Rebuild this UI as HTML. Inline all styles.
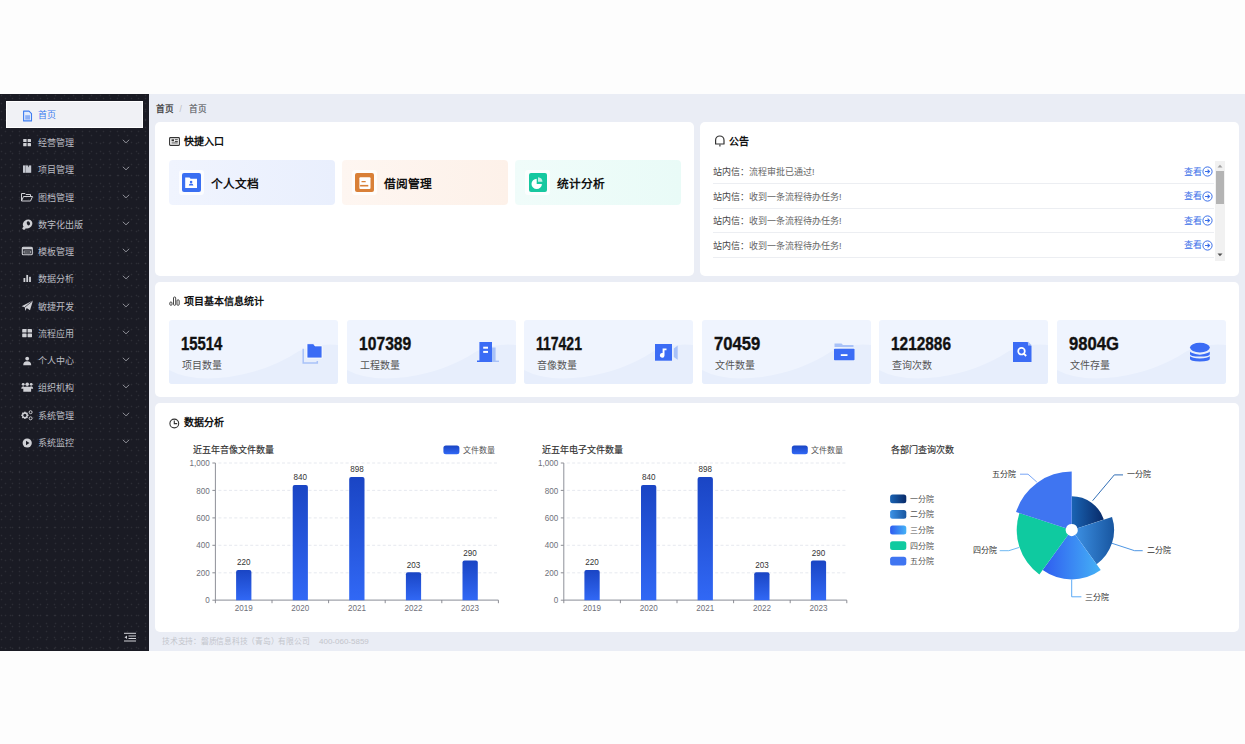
<!DOCTYPE html>
<html lang="zh-CN"><head><meta charset="utf-8">
<style>
*{box-sizing:border-box;margin:0;padding:0}
html,body{width:1245px;height:744px;overflow:hidden;background-color:#fdfdfd;font-family:"Liberation Sans",sans-serif;}
.abs{position:absolute}
#side{position:absolute;left:0;top:94px;width:149px;height:557px;background-color:#1a1b24;background-image:radial-gradient(circle at 1.5px 1.5px,rgba(110,110,120,.22) 0.6px,transparent 1.1px),radial-gradient(circle at 1.5px 1.5px,rgba(110,110,120,.22) 0.6px,transparent 1.1px);background-size:9px 8px,7px 11px;background-position:0 0,4px 3px;}
#main{position:absolute;left:149px;top:94px;width:1096px;height:557px;background:#eaedf5;}
.card{position:absolute;background:#fff;border-radius:5px;}
.mi{position:absolute;left:0;width:149px;height:0;color:#bcbdc3;font-size:9px;}
.mi .t{position:absolute;left:38px;top:-6px;line-height:14px;white-space:nowrap}
.mi .ic{position:absolute}
.mi .ch{position:absolute;left:122px;top:-3px}
.ttl{position:absolute;font-size:10px;font-weight:bold;color:#111;line-height:14px;white-space:nowrap}
.tile{position:absolute;top:160px;width:166px;height:45px;border-radius:4px}
.tile .ib{position:absolute;left:13px;top:14px;width:18px;height:18px;border-radius:1px}
.tile .tx{position:absolute;left:42px;top:15.5px;font-size:11.7px;font-weight:bold;color:#111;line-height:16px;white-space:nowrap}
.stat{position:absolute;top:320px;width:169px;height:64px;border-radius:3px;background:#eff4fe;overflow:hidden}
.stat .num{position:absolute;left:12px;top:13.5px;font-size:17.5px;font-weight:bold;color:#111;line-height:20px;transform-origin:0 0;white-space:nowrap;-webkit-text-stroke:0.35px #111}
.stat .lab{position:absolute;left:13px;top:39px;font-size:10px;color:#555;line-height:14px;white-space:nowrap}
</style></head><body>
<div id="side">
  <div class="abs" style="left:6px;top:7px;width:137px;height:27px;background:#f0f1f5;border:1px solid #fff;"></div>
  <svg class="abs" style="left:22px;top:15.5px" width="11" height="12" viewBox="0 0 11 12"><path d="M1.6 1.1 H7 L9.5 3.6 V10.9 H1.6 Z" fill="#e3ecfc" stroke="#3d7cf0" stroke-width="1.1" stroke-linejoin="round"/><path d="M3.2 5.2 H8 V9.6 H3.2Z" fill="#8db0f5"/></svg>
  <div class="abs" style="left:38px;top:14px;font-size:9px;line-height:14px;color:#3d7cf0">首页</div>
<!--SIDE--><div class="mi" style="top:48.17px"><svg class="ic" width="12" height="12" viewBox="0 0 12 12" style="left:22px;top:-5.5px"><rect x="1.2" y="2" width="3.4" height="3.1" rx="0.5" fill="#cfd0d5"/><rect x="5.6" y="2" width="3.4" height="3.1" rx="0.5" fill="#cfd0d5"/><rect x="1.2" y="6.1" width="3.4" height="3.1" rx="0.5" fill="#cfd0d5"/><rect x="5.6" y="6.1" width="3.4" height="3.1" rx="0.5" fill="#cfd0d5"/></svg><span class="t">经营管理</span><svg class="ch" width="8" height="5" viewBox="0 0 8 5"><path d="M0.8 0.8 L4 3.8 L7.2 0.8" fill="none" stroke="#9a9ba3" stroke-width="0.9"/></svg></div>
<div class="mi" style="top:75.43px"><svg class="ic" width="12" height="12" viewBox="0 0 12 12" style="left:22px;top:-6px"><rect x="1" y="2.4" width="8.2" height="7.4" fill="#c4c7cf"/><rect x="3.1" y="2.4" width="0.55" height="7.4" fill="#1c1d26" fill-opacity="0.6"/><path d="M5.8 2.3 L6.5 4.4 L7.2 2.3Z" fill="#1c1d26"/></svg><span class="t">项目管理</span><svg class="ch" width="8" height="5" viewBox="0 0 8 5"><path d="M0.8 0.8 L4 3.8 L7.2 0.8" fill="none" stroke="#9a9ba3" stroke-width="0.9"/></svg></div>
<div class="mi" style="top:102.68px"><svg class="ic" width="14" height="14" viewBox="0 0 14 14" style="left:20px;top:-7px"><path d="M1.5 11 V3.5 H5 L6 4.5 H10.5 V6.5 M1.5 11 L3.5 6.5 H12.5 L10.5 11 Z" fill="none" stroke="#cfd0d5" stroke-width="1"/></svg><span class="t">图档管理</span><svg class="ch" width="8" height="5" viewBox="0 0 8 5"><path d="M0.8 0.8 L4 3.8 L7.2 0.8" fill="none" stroke="#9a9ba3" stroke-width="0.9"/></svg></div>
<div class="mi" style="top:129.94px"><svg class="ic" width="14" height="14" viewBox="0 0 14 14" style="left:20px;top:-7px"><ellipse cx="7.6" cy="7" rx="5" ry="4.2" transform="rotate(-35 7.6 7)" fill="#cfd0d5"/><ellipse cx="8.4" cy="6.3" rx="1.6" ry="2.1" transform="rotate(-20 8.4 6.3)" fill="#1c1d26"/><circle cx="4" cy="11.3" r="1.5" fill="#cfd0d5"/></svg><span class="t">数字化出版</span><svg class="ch" width="8" height="5" viewBox="0 0 8 5"><path d="M0.8 0.8 L4 3.8 L7.2 0.8" fill="none" stroke="#9a9ba3" stroke-width="0.9"/></svg></div>
<div class="mi" style="top:157.19px"><svg class="ic" width="14" height="14" viewBox="0 0 14 14" style="left:20px;top:-7px"><rect x="2.3" y="3.3" width="10" height="7.5" rx="1" fill="none" stroke="#cfd0d5" stroke-width="1.1"/><rect x="2.3" y="3.3" width="10" height="2" fill="#cfd0d5"/><rect x="4" y="7" width="6.5" height="2" fill="none" stroke="#cfd0d5" stroke-width="0.7"/></svg><span class="t">模板管理</span><svg class="ch" width="8" height="5" viewBox="0 0 8 5"><path d="M0.8 0.8 L4 3.8 L7.2 0.8" fill="none" stroke="#9a9ba3" stroke-width="0.9"/></svg></div>
<div class="mi" style="top:184.45px"><svg class="ic" width="12" height="12" viewBox="0 0 12 12" style="left:22px;top:-6px"><rect x="1.5" y="6" width="1.8" height="4" fill="#cfd0d5"/><rect x="4.3" y="3" width="1.8" height="7" fill="#cfd0d5"/><rect x="7.1" y="4.8" width="1.8" height="5.2" fill="#cfd0d5"/></svg><span class="t">数据分析</span><svg class="ch" width="8" height="5" viewBox="0 0 8 5"><path d="M0.8 0.8 L4 3.8 L7.2 0.8" fill="none" stroke="#9a9ba3" stroke-width="0.9"/></svg></div>
<div class="mi" style="top:211.71px"><svg class="ic" width="14" height="14" viewBox="0 0 14 14" style="left:20px;top:-6.5px"><path d="M1.6 7.2 L13 1.6 L10 11.3 L6.7 9 L5.3 12 L4.8 8.2 Z" fill="#cfd0d5"/><path d="M4.8 8.2 L13 1.6" stroke="#1c1d26" stroke-width="0.7"/></svg><span class="t">敏捷开发</span><svg class="ch" width="8" height="5" viewBox="0 0 8 5"><path d="M0.8 0.8 L4 3.8 L7.2 0.8" fill="none" stroke="#9a9ba3" stroke-width="0.9"/></svg></div>
<div class="mi" style="top:238.96px"><svg class="ic" width="14" height="14" viewBox="0 0 14 14" style="left:20px;top:-6.5px"><rect x="2.2" y="3" width="4.4" height="3.6" rx="0.4" fill="#cfd0d5"/><rect x="7.6" y="3" width="4.4" height="3.6" rx="0.4" fill="#cfd0d5"/><rect x="2.2" y="7.6" width="4.4" height="3.6" rx="0.4" fill="#cfd0d5"/><rect x="7.6" y="7.6" width="4.4" height="3.6" rx="0.4" fill="#cfd0d5"/></svg><span class="t">流程应用</span><svg class="ch" width="8" height="5" viewBox="0 0 8 5"><path d="M0.8 0.8 L4 3.8 L7.2 0.8" fill="none" stroke="#9a9ba3" stroke-width="0.9"/></svg></div>
<div class="mi" style="top:266.22px"><svg class="ic" width="14" height="14" viewBox="0 0 14 14" style="left:20px;top:-6.5px"><circle cx="7.2" cy="4.6" r="1.9" fill="#cfd0d5"/><path d="M3.2 11.3 Q3.2 7.2 7.2 7.2 Q11.2 7.2 11.2 11.3 Z" fill="#cfd0d5"/></svg><span class="t">个人中心</span><svg class="ch" width="8" height="5" viewBox="0 0 8 5"><path d="M0.8 0.8 L4 3.8 L7.2 0.8" fill="none" stroke="#9a9ba3" stroke-width="0.9"/></svg></div>
<div class="mi" style="top:293.47px"><svg class="ic" width="14" height="14" viewBox="0 0 14 14" style="left:20px;top:-7px"><circle cx="7.2" cy="4.2" r="1.8" fill="#cfd0d5"/><circle cx="3.2" cy="4.3" r="1.4" fill="#cfd0d5"/><circle cx="11.2" cy="4.3" r="1.4" fill="#cfd0d5"/><path d="M1.2 8.8 Q1.2 6.3 3.2 6.3 Q5.2 6.3 5.2 8.8Z M8.8 8.8 Q8.8 6.3 11.2 6.3 Q13.2 6.3 13.2 8.8Z" fill="#cfd0d5"/><path d="M3.3 11.8 V8.7 Q3.3 6.5 7.2 6.5 Q11.1 6.5 11.1 8.7 V11.8Z" fill="#cfd0d5"/></svg><span class="t">组织机构</span><svg class="ch" width="8" height="5" viewBox="0 0 8 5"><path d="M0.8 0.8 L4 3.8 L7.2 0.8" fill="none" stroke="#9a9ba3" stroke-width="0.9"/></svg></div>
<div class="mi" style="top:320.73px"><svg class="ic" width="14" height="14" viewBox="0 0 14 14" style="left:20px;top:-7px"><g transform="translate(4.9 7.3)"><circle r="2.3" fill="none" stroke="#cfd0d5" stroke-width="1.3"/><rect x="-0.75" y="-3.6" width="1.5" height="1.6" fill="#cfd0d5" transform="rotate(0)"/><rect x="-0.75" y="-3.6" width="1.5" height="1.6" fill="#cfd0d5" transform="rotate(45)"/><rect x="-0.75" y="-3.6" width="1.5" height="1.6" fill="#cfd0d5" transform="rotate(90)"/><rect x="-0.75" y="-3.6" width="1.5" height="1.6" fill="#cfd0d5" transform="rotate(135)"/><rect x="-0.75" y="-3.6" width="1.5" height="1.6" fill="#cfd0d5" transform="rotate(180)"/><rect x="-0.75" y="-3.6" width="1.5" height="1.6" fill="#cfd0d5" transform="rotate(225)"/><rect x="-0.75" y="-3.6" width="1.5" height="1.6" fill="#cfd0d5" transform="rotate(270)"/><rect x="-0.75" y="-3.6" width="1.5" height="1.6" fill="#cfd0d5" transform="rotate(315)"/></g><circle cx="10.6" cy="4.2" r="1.5" fill="none" stroke="#cfd0d5" stroke-width="1"/><circle cx="10.6" cy="10.3" r="1.5" fill="none" stroke="#cfd0d5" stroke-width="1"/></svg><span class="t">系统管理</span><svg class="ch" width="8" height="5" viewBox="0 0 8 5"><path d="M0.8 0.8 L4 3.8 L7.2 0.8" fill="none" stroke="#9a9ba3" stroke-width="0.9"/></svg></div>
<div class="mi" style="top:347.99px"><svg class="ic" width="14" height="14" viewBox="0 0 14 14" style="left:20px;top:-6px"><circle cx="7.2" cy="7" r="4.6" fill="#cfd0d5"/><path d="M6 4.8 L9.5 7 L6 9.2 Z" fill="#1c1d26"/></svg><span class="t">系统监控</span><svg class="ch" width="8" height="5" viewBox="0 0 8 5"><path d="M0.8 0.8 L4 3.8 L7.2 0.8" fill="none" stroke="#9a9ba3" stroke-width="0.9"/></svg></div><!--/SIDE-->
  <svg class="abs" style="left:123px;top:538px" width="14" height="11" viewBox="0 0 14 11"><rect x="1" y="0.8" width="12" height="1" fill="#d2d3d8"/><rect x="5.5" y="3.5" width="7.5" height="1" fill="#d2d3d8"/><rect x="5.5" y="6" width="7.5" height="1" fill="#d2d3d8"/><rect x="1" y="8.5" width="12" height="1" fill="#d2d3d8"/><path d="M4 3.4 L1.6 5.2 L4 7 Z" fill="#d2d3d8"/></svg>
</div>
<div id="main"></div>
<div class="abs" style="left:155.5px;top:102.5px;font-size:8.6px;line-height:12px;color:#333;white-space:nowrap;-webkit-text-stroke:0.25px #333">首页<span style="color:#c0c0c0;margin:0 7.5px 0 6px;-webkit-text-stroke:0">/</span><span style="color:#606266;-webkit-text-stroke:0.2px #606266">首页</span></div>

<div class="card" style="left:155px;top:122px;width:539px;height:154px"></div>
<div class="card" style="left:700px;top:122px;width:539px;height:154px"></div>
<div class="card" style="left:155px;top:282px;width:1084px;height:115px"></div>
<div class="card" style="left:155px;top:403px;width:1084px;height:228.5px"></div>

<!-- quick entry -->
<svg class="abs" style="left:169px;top:137px" width="11" height="9" viewBox="0 0 11 9"><rect x="0.6" y="0.6" width="9.8" height="7.8" rx="0.8" fill="none" stroke="#333" stroke-width="1.1"/><rect x="2.5" y="2.3" width="2.5" height="2" fill="#333"/><rect x="5.8" y="2.3" width="3" height="0.9" fill="#333"/><rect x="5.8" y="4" width="3" height="0.9" fill="#333"/><rect x="2.5" y="5.5" width="6.3" height="0.9" fill="#333"/></svg>
<div class="ttl" style="left:184px;top:135px">快捷入口</div>

<div class="tile" style="left:169px;background:linear-gradient(90deg,#f0f4fe,#e9effd)">
  <div class="abs" style="left:10px;top:10px;width:25px;height:24.5px;border-radius:3px;background:rgba(255,255,255,.75)"></div>
  <div class="ib" style="left:13px;top:13.2px;width:18.6px;height:18.6px;background:#3a6ff2;border-radius:2px"></div>
  <svg class="abs" style="left:15.8px;top:17.2px" width="12.5" height="11.5" viewBox="0 0 12.5 11.5"><path d="M0.2 0.5 H4.5 L5.6 1.8 H12 V11 H0.2Z" fill="#fff"/><circle cx="6.1" cy="5" r="1.3" fill="#3a6ff2"/><path d="M3.8 8.5 Q3.8 6.6 6.1 6.6 Q8.4 6.6 8.4 8.5Z" fill="#3a6ff2"/></svg>
  <div class="tx">个人文档</div>
</div>
<div class="tile" style="left:342px;background:linear-gradient(90deg,#fef6f1,#fdf1e9)">
  <div class="abs" style="left:10px;top:10px;width:25px;height:24.5px;border-radius:3px;background:rgba(255,255,255,.75)"></div>
  <div class="ib" style="left:13px;top:13.2px;width:18.6px;height:18.6px;background:#d98038;border-radius:2px"></div>
  <svg class="abs" style="left:16.5px;top:16.8px" width="12" height="12.5" viewBox="0 0 12 12.5"><rect x="0.4" y="0.2" width="11.1" height="11.8" rx="1" fill="#fff"/><rect x="2.4" y="4" width="4.4" height="1.3" rx="0.6" fill="#d98038"/><rect x="1.1" y="7.9" width="8.2" height="1.6" fill="#d98038"/></svg>
  <div class="tx">借阅管理</div>
</div>
<div class="tile" style="left:515px;background:linear-gradient(90deg,#f0fcfa,#e9fbf7)">
  <div class="abs" style="left:10px;top:10px;width:25px;height:24.5px;border-radius:3px;background:rgba(255,255,255,.75)"></div>
  <div class="ib" style="left:13.5px;top:13.2px;width:18.4px;height:18.8px;background:#17c8a0;border-radius:2px"></div>
  <svg class="abs" style="left:16px;top:16.5px" width="13" height="13" viewBox="0 0 13 13"><path d="M5.7 1.7 A5.2 5.2 0 1 0 10.9 6.9 L5.7 6.9 Z" fill="#fff"/><path d="M7 0.3 A4.8 4.8 0 0 1 11.5 4.8 L7 4.8Z" fill="#fff" fill-opacity="0.75"/></svg>
  <div class="tx">统计分析</div>
</div>
</div>

<!-- notice -->
<svg class="abs" style="left:713.5px;top:135px" width="12" height="13" viewBox="0 0 12 13"><path d="M1.6 9 V5.2 A4.2 4.2 0 0 1 10 5.2 V9 Z" fill="none" stroke="#333" stroke-width="1.2" stroke-linejoin="round"/><rect x="5.2" y="9.3" width="1.4" height="2.2" fill="#555"/></svg>
<div class="ttl" style="left:729px;top:135px">公告</div>
<div class="abs" style="left:713px;top:165.3px;font-size:9px;line-height:14px;white-space:nowrap"><span style="color:#444">站内信：</span><span style="color:#666">流程审批已通过!</span></div>
<div class="abs" style="left:1184px;top:164.8px;font-size:9px;line-height:14px;color:#3a6fe8;white-space:nowrap">查看</div>
<svg class="abs" style="left:1202px;top:166.3px" width="11" height="11" viewBox="0 0 11 11"><circle cx="5.5" cy="5.5" r="4.6" fill="none" stroke="#3a6fe8" stroke-width="1"/><path d="M3 5.5 H7.5 M5.6 3.6 L7.5 5.5 L5.6 7.4" fill="none" stroke="#3a6fe8" stroke-width="1.1"/></svg>
<div class="abs" style="left:713px;top:183.4px;width:501px;height:1px;background:#eceef2"></div>
<div class="abs" style="left:713px;top:189.7px;font-size:9px;line-height:14px;white-space:nowrap"><span style="color:#444">站内信：</span><span style="color:#666">收到一条流程待办任务!</span></div>
<div class="abs" style="left:1184px;top:189.2px;font-size:9px;line-height:14px;color:#3a6fe8;white-space:nowrap">查看</div>
<svg class="abs" style="left:1202px;top:190.7px" width="11" height="11" viewBox="0 0 11 11"><circle cx="5.5" cy="5.5" r="4.6" fill="none" stroke="#3a6fe8" stroke-width="1"/><path d="M3 5.5 H7.5 M5.6 3.6 L7.5 5.5 L5.6 7.4" fill="none" stroke="#3a6fe8" stroke-width="1.1"/></svg>
<div class="abs" style="left:713px;top:207.8px;width:501px;height:1px;background:#eceef2"></div>
<div class="abs" style="left:713px;top:214.1px;font-size:9px;line-height:14px;white-space:nowrap"><span style="color:#444">站内信：</span><span style="color:#666">收到一条流程待办任务!</span></div>
<div class="abs" style="left:1184px;top:213.6px;font-size:9px;line-height:14px;color:#3a6fe8;white-space:nowrap">查看</div>
<svg class="abs" style="left:1202px;top:215.1px" width="11" height="11" viewBox="0 0 11 11"><circle cx="5.5" cy="5.5" r="4.6" fill="none" stroke="#3a6fe8" stroke-width="1"/><path d="M3 5.5 H7.5 M5.6 3.6 L7.5 5.5 L5.6 7.4" fill="none" stroke="#3a6fe8" stroke-width="1.1"/></svg>
<div class="abs" style="left:713px;top:232.2px;width:501px;height:1px;background:#eceef2"></div>
<div class="abs" style="left:713px;top:238.5px;font-size:9px;line-height:14px;white-space:nowrap"><span style="color:#444">站内信：</span><span style="color:#666">收到一条流程待办任务!</span></div>
<div class="abs" style="left:1184px;top:238.0px;font-size:9px;line-height:14px;color:#3a6fe8;white-space:nowrap">查看</div>
<svg class="abs" style="left:1202px;top:239.5px" width="11" height="11" viewBox="0 0 11 11"><circle cx="5.5" cy="5.5" r="4.6" fill="none" stroke="#3a6fe8" stroke-width="1"/><path d="M3 5.5 H7.5 M5.6 3.6 L7.5 5.5 L5.6 7.4" fill="none" stroke="#3a6fe8" stroke-width="1.1"/></svg>
<div class="abs" style="left:713px;top:256.6px;width:501px;height:1px;background:#eceef2"></div>
<div class="abs" style="left:1215px;top:161px;width:10px;height:100px;background:#f1f1f1"></div>
<div class="abs" style="left:1216px;top:171px;width:8px;height:33px;background:#b4b4b4"></div>
<svg class="abs" style="left:1217px;top:164px" width="6" height="4" viewBox="0 0 6 4"><path d="M0.5 3.5 L3 0.8 L5.5 3.5Z" fill="#a0a0a0"/></svg>
<svg class="abs" style="left:1217px;top:253px" width="6" height="4" viewBox="0 0 6 4"><path d="M0.5 0.5 L3 3.2 L5.5 0.5Z" fill="#505050"/></svg>

<svg class="abs" style="left:169px;top:296px" width="12" height="10" viewBox="0 0 12 10"><rect x="0.8" y="6" width="2.2" height="3.3" rx="1" fill="none" stroke="#333" stroke-width="0.9"/><rect x="4.5" y="1" width="2.2" height="8.3" rx="1" fill="none" stroke="#333" stroke-width="0.9"/><rect x="8" y="3.8" width="2.2" height="5.5" rx="1" fill="none" stroke="#333" stroke-width="0.9"/></svg>
<div class="ttl" style="left:184px;top:295px">项目基本信息统计</div>
<div class="stat" style="left:169px"><svg class="abs" style="left:0;top:0" width="169" height="64" viewBox="0 0 169 64" preserveAspectRatio="none"><path d="M0 50 Q22 62 60 57 Q100 51 130 31 Q150 23 169 25 V64 H0Z" fill="#e7eefc"/></svg><div class="num" style="transform:scaleX(0.85)">15514</div><div class="lab">项目数量</div><svg class="abs" style="left:133px;top:22px" width="22" height="22" viewBox="0 0 22 22"><path d="M1.2 6.8 V21 H15.3 V19" fill="none" stroke="#a9c2f8" stroke-width="1.5"/><path d="M5 1.7 H11.5 L13 3.9 H20 V16 H5 Z" fill="#3b6cf5" stroke="#fff" stroke-width="0.8"/></svg></div>
<div class="stat" style="left:346.5px"><svg class="abs" style="left:0;top:0" width="169" height="64" viewBox="0 0 169 64" preserveAspectRatio="none"><path d="M0 50 Q22 62 60 57 Q100 51 130 31 Q150 23 169 25 V64 H0Z" fill="#e7eefc"/></svg><div class="num" style="transform:scaleX(0.895)">107389</div><div class="lab">工程数量</div><svg class="abs" style="left:127.5px;top:21px" width="26" height="22" viewBox="0 0 26 22"><rect x="18" y="6.5" width="3.6" height="14" fill="#a9c2f8"/><rect x="16" y="19.6" width="9" height="1.4" fill="#a9c2f8"/><rect x="5.4" y="1" width="12.6" height="20" fill="#3b6cf5"/><rect x="3" y="19.5" width="3" height="1.5" fill="#3b6cf5"/><rect x="9.2" y="5.7" width="4.8" height="2" fill="#fff"/><rect x="9.2" y="9.9" width="4.8" height="2" fill="#fff"/></svg></div>
<div class="stat" style="left:524px"><svg class="abs" style="left:0;top:0" width="169" height="64" viewBox="0 0 169 64" preserveAspectRatio="none"><path d="M0 50 Q22 62 60 57 Q100 51 130 31 Q150 23 169 25 V64 H0Z" fill="#e7eefc"/></svg><div class="num" style="transform:scaleX(0.8)">117421</div><div class="lab">音像数量</div><svg class="abs" style="left:130px;top:23px" width="26" height="20" viewBox="0 0 26 20"><path d="M19.8 5.5 L23.7 2.5 V16.8 L19.8 14 Z" fill="#a9c2f8"/><rect x="1" y="1" width="17" height="16.7" fill="#3b6cf5"/><path d="M8.6 5.5 H12.5 V7.3 H10.5 V12.4 A2.3 2.3 0 1 1 8.6 10.1 Z" fill="#fff"/></svg></div>
<div class="stat" style="left:701.5px"><svg class="abs" style="left:0;top:0" width="169" height="64" viewBox="0 0 169 64" preserveAspectRatio="none"><path d="M0 50 Q22 62 60 57 Q100 51 130 31 Q150 23 169 25 V64 H0Z" fill="#e7eefc"/></svg><div class="num" style="transform:scaleX(0.95)">70459</div><div class="lab">文件数量</div><svg class="abs" style="left:130px;top:22px" width="24" height="20" viewBox="0 0 24 20"><path d="M2.5 5 V1.5 H9.5 L11 3 H21.5 V5 Z" fill="#a9c2f8"/><rect x="2" y="6.8" width="20.5" height="11.4" rx="0.8" fill="#3b6cf5"/><rect x="8.8" y="12.2" width="6.7" height="1.8" fill="#fff"/></svg></div>
<div class="stat" style="left:879px"><svg class="abs" style="left:0;top:0" width="169" height="64" viewBox="0 0 169 64" preserveAspectRatio="none"><path d="M0 50 Q22 62 60 57 Q100 51 130 31 Q150 23 169 25 V64 H0Z" fill="#e7eefc"/></svg><div class="num" style="transform:scaleX(0.88)">1212886</div><div class="lab">查询次数</div><svg class="abs" style="left:133px;top:20px" width="22" height="24" viewBox="0 0 22 24"><path d="M1 2 H15.5 L19.5 6 V22 H1 Z" fill="#3b6cf5"/><path d="M16 1.5 L20 5.5 H16Z" fill="#a9c2f8"/><circle cx="9.5" cy="11.2" r="3.3" fill="none" stroke="#fff" stroke-width="1.7"/><path d="M11.8 13.6 L14.2 16" stroke="#fff" stroke-width="1.8"/></svg></div>
<div class="stat" style="left:1056.5px"><svg class="abs" style="left:0;top:0" width="169" height="64" viewBox="0 0 169 64" preserveAspectRatio="none"><path d="M0 50 Q22 62 60 57 Q100 51 130 31 Q150 23 169 25 V64 H0Z" fill="#e7eefc"/></svg><div class="num" style="transform:scaleX(0.95)">9804G</div><div class="lab">文件存量</div><svg class="abs" style="left:130px;top:18.5px" width="24" height="24" viewBox="0 0 24 24"><path d="M3 12.5 Q3 14 12.8 15.8 Q22.8 14 22.8 12.5 V15.3 Q22.8 17.6 12.8 17.6 Q3 17.6 3 15.3Z" fill="#3b6cf5"/><path d="M3 17.2 Q5 19 12.8 19.5 Q21 19 22.8 17.2 V20 Q22.8 22.4 12.8 22.4 Q3 22.4 3 20Z" fill="#3b6cf5"/><ellipse cx="12.9" cy="8.6" rx="9.9" ry="4.8" fill="#3b6cf5"/></svg></div>
<!--CHARTS--><svg class="abs" style="left:169px;top:418px" width="11" height="11" viewBox="0 0 11 11"><circle cx="5.3" cy="5.5" r="4.4" fill="none" stroke="#333" stroke-width="1.1"/><path d="M5.3 2.5 V5.6 H8.2" fill="none" stroke="#333" stroke-width="1.1"/></svg>
<div class="ttl" style="left:184px;top:416px">数据分析</div>
<svg class="abs" style="left:0;top:0;font-family:'Liberation Sans',sans-serif" width="1245" height="744" viewBox="0 0 1245 744"><defs>
<linearGradient id="gb" x1="0" y1="0" x2="0" y2="1"><stop offset="0" stop-color="#1a45c4"/><stop offset="1" stop-color="#3168f5"/></linearGradient>
<linearGradient id="p1" x1="0" y1="0" x2="1" y2="0"><stop offset="0" stop-color="#1a64b4"/><stop offset="1" stop-color="#082a68"/></linearGradient>
<linearGradient id="p2" x1="0" y1="0" x2="1" y2="0"><stop offset="0" stop-color="#3c8fe2"/><stop offset="1" stop-color="#1856a0"/></linearGradient>
<linearGradient id="p3" x1="0" y1="0" x2="1" y2="0"><stop offset="0" stop-color="#2f5cf0"/><stop offset="1" stop-color="#45b2f6"/></linearGradient>
<linearGradient id="l1" x1="0" y1="0" x2="1" y2="0"><stop offset="0" stop-color="#1a64b4"/><stop offset="1" stop-color="#082a68"/></linearGradient>
<linearGradient id="l2" x1="0" y1="0" x2="1" y2="0"><stop offset="0" stop-color="#3c92e6"/><stop offset="1" stop-color="#1856a0"/></linearGradient>
<linearGradient id="l3" x1="0" y1="0" x2="1" y2="0"><stop offset="0" stop-color="#2f5cf0"/><stop offset="1" stop-color="#45b2f6"/></linearGradient>
</defs><text x="193.4" y="453" font-size="9" fill="#333" stroke="#333" stroke-width="0.18">近五年音像文件数量</text>
<rect x="443.4" y="445.5" width="16" height="8.7" rx="2.5" fill="url(#gb)"/>
<text x="462.8" y="452.6" font-size="8" fill="#555">文件数量</text>
<text transform="translate(209.8 603.3) scale(0.88 1)" font-size="9.2" fill="#6e7079" text-anchor="end">0</text>
<line x1="212.4" y1="600.2" x2="215.4" y2="600.2" stroke="#6e7079" stroke-width="0.8"/>
<text transform="translate(209.8 575.9) scale(0.88 1)" font-size="9.2" fill="#6e7079" text-anchor="end">200</text>
<line x1="212.4" y1="572.8" x2="215.4" y2="572.8" stroke="#6e7079" stroke-width="0.8"/>
<line x1="218.4" y1="572.8" x2="498.4" y2="572.8" stroke="#e0e3eb" stroke-width="0.8" stroke-dasharray="3 2.3"/>
<text transform="translate(209.8 548.4) scale(0.88 1)" font-size="9.2" fill="#6e7079" text-anchor="end">400</text>
<line x1="212.4" y1="545.3" x2="215.4" y2="545.3" stroke="#6e7079" stroke-width="0.8"/>
<line x1="218.4" y1="545.3" x2="498.4" y2="545.3" stroke="#e0e3eb" stroke-width="0.8" stroke-dasharray="3 2.3"/>
<text transform="translate(209.8 521.0) scale(0.88 1)" font-size="9.2" fill="#6e7079" text-anchor="end">600</text>
<line x1="212.4" y1="517.9" x2="215.4" y2="517.9" stroke="#6e7079" stroke-width="0.8"/>
<line x1="218.4" y1="517.9" x2="498.4" y2="517.9" stroke="#e0e3eb" stroke-width="0.8" stroke-dasharray="3 2.3"/>
<text transform="translate(209.8 493.5) scale(0.88 1)" font-size="9.2" fill="#6e7079" text-anchor="end">800</text>
<line x1="212.4" y1="490.4" x2="215.4" y2="490.4" stroke="#6e7079" stroke-width="0.8"/>
<line x1="218.4" y1="490.4" x2="498.4" y2="490.4" stroke="#e0e3eb" stroke-width="0.8" stroke-dasharray="3 2.3"/>
<text transform="translate(209.8 466.1) scale(0.88 1)" font-size="9.2" fill="#6e7079" text-anchor="end">1,000</text>
<line x1="212.4" y1="463.0" x2="215.4" y2="463.0" stroke="#6e7079" stroke-width="0.8"/>
<line x1="218.4" y1="463.0" x2="498.4" y2="463.0" stroke="#e0e3eb" stroke-width="0.8" stroke-dasharray="3 2.3"/>
<line x1="215.4" y1="463.0" x2="215.4" y2="600.2" stroke="#8e9199" stroke-width="1"/>
<line x1="215.4" y1="600.2" x2="498.4" y2="600.2" stroke="#a0a3ab" stroke-width="1.2"/>
<line x1="215.4" y1="600.2" x2="215.4" y2="603.2" stroke="#6e7079" stroke-width="0.8"/>
<line x1="272.0" y1="600.2" x2="272.0" y2="603.2" stroke="#6e7079" stroke-width="0.8"/>
<line x1="328.6" y1="600.2" x2="328.6" y2="603.2" stroke="#6e7079" stroke-width="0.8"/>
<line x1="385.2" y1="600.2" x2="385.2" y2="603.2" stroke="#6e7079" stroke-width="0.8"/>
<line x1="441.8" y1="600.2" x2="441.8" y2="603.2" stroke="#6e7079" stroke-width="0.8"/>
<line x1="498.4" y1="600.2" x2="498.4" y2="603.2" stroke="#6e7079" stroke-width="0.8"/>
<path d="M236.1 600.2 V572.0 Q236.1 570.0 238.1 570.0 H249.4 Q251.4 570.0 251.4 572.0 V600.2Z" fill="url(#gb)"/>
<text transform="translate(243.7 565.2) scale(0.88 1)" font-size="9.2" fill="#333" text-anchor="middle">220</text>
<text transform="translate(243.7 611.4) scale(0.88 1)" font-size="9.2" fill="#6e7079" text-anchor="middle">2019</text>
<path d="M292.7 600.2 V487.0 Q292.7 485.0 294.7 485.0 H305.9 Q307.9 485.0 307.9 487.0 V600.2Z" fill="url(#gb)"/>
<text transform="translate(300.3 480.2) scale(0.88 1)" font-size="9.2" fill="#333" text-anchor="middle">840</text>
<text transform="translate(300.3 611.4) scale(0.88 1)" font-size="9.2" fill="#6e7079" text-anchor="middle">2020</text>
<path d="M349.2 600.2 V479.0 Q349.2 477.0 351.2 477.0 H362.5 Q364.5 477.0 364.5 479.0 V600.2Z" fill="url(#gb)"/>
<text transform="translate(356.9 472.2) scale(0.88 1)" font-size="9.2" fill="#333" text-anchor="middle">898</text>
<text transform="translate(356.9 611.4) scale(0.88 1)" font-size="9.2" fill="#6e7079" text-anchor="middle">2021</text>
<path d="M405.9 600.2 V574.3 Q405.9 572.3 407.9 572.3 H419.1 Q421.1 572.3 421.1 574.3 V600.2Z" fill="url(#gb)"/>
<text transform="translate(413.5 567.5) scale(0.88 1)" font-size="9.2" fill="#333" text-anchor="middle">203</text>
<text transform="translate(413.5 611.4) scale(0.88 1)" font-size="9.2" fill="#6e7079" text-anchor="middle">2022</text>
<path d="M462.5 600.2 V562.4 Q462.5 560.4 464.5 560.4 H475.8 Q477.8 560.4 477.8 562.4 V600.2Z" fill="url(#gb)"/>
<text transform="translate(470.1 555.6) scale(0.88 1)" font-size="9.2" fill="#333" text-anchor="middle">290</text>
<text transform="translate(470.1 611.4) scale(0.88 1)" font-size="9.2" fill="#6e7079" text-anchor="middle">2023</text><text x="541.8" y="453" font-size="9" fill="#333" stroke="#333" stroke-width="0.18">近五年电子文件数量</text>
<rect x="791.8" y="445.5" width="16" height="8.7" rx="2.5" fill="url(#gb)"/>
<text x="811.2" y="452.6" font-size="8" fill="#555">文件数量</text>
<text transform="translate(558.2 603.3) scale(0.88 1)" font-size="9.2" fill="#6e7079" text-anchor="end">0</text>
<line x1="560.8" y1="600.2" x2="563.8" y2="600.2" stroke="#6e7079" stroke-width="0.8"/>
<text transform="translate(558.2 575.9) scale(0.88 1)" font-size="9.2" fill="#6e7079" text-anchor="end">200</text>
<line x1="560.8" y1="572.8" x2="563.8" y2="572.8" stroke="#6e7079" stroke-width="0.8"/>
<line x1="566.8" y1="572.8" x2="846.8" y2="572.8" stroke="#e0e3eb" stroke-width="0.8" stroke-dasharray="3 2.3"/>
<text transform="translate(558.2 548.4) scale(0.88 1)" font-size="9.2" fill="#6e7079" text-anchor="end">400</text>
<line x1="560.8" y1="545.3" x2="563.8" y2="545.3" stroke="#6e7079" stroke-width="0.8"/>
<line x1="566.8" y1="545.3" x2="846.8" y2="545.3" stroke="#e0e3eb" stroke-width="0.8" stroke-dasharray="3 2.3"/>
<text transform="translate(558.2 521.0) scale(0.88 1)" font-size="9.2" fill="#6e7079" text-anchor="end">600</text>
<line x1="560.8" y1="517.9" x2="563.8" y2="517.9" stroke="#6e7079" stroke-width="0.8"/>
<line x1="566.8" y1="517.9" x2="846.8" y2="517.9" stroke="#e0e3eb" stroke-width="0.8" stroke-dasharray="3 2.3"/>
<text transform="translate(558.2 493.5) scale(0.88 1)" font-size="9.2" fill="#6e7079" text-anchor="end">800</text>
<line x1="560.8" y1="490.4" x2="563.8" y2="490.4" stroke="#6e7079" stroke-width="0.8"/>
<line x1="566.8" y1="490.4" x2="846.8" y2="490.4" stroke="#e0e3eb" stroke-width="0.8" stroke-dasharray="3 2.3"/>
<text transform="translate(558.2 466.1) scale(0.88 1)" font-size="9.2" fill="#6e7079" text-anchor="end">1,000</text>
<line x1="560.8" y1="463.0" x2="563.8" y2="463.0" stroke="#6e7079" stroke-width="0.8"/>
<line x1="566.8" y1="463.0" x2="846.8" y2="463.0" stroke="#e0e3eb" stroke-width="0.8" stroke-dasharray="3 2.3"/>
<line x1="563.8" y1="463.0" x2="563.8" y2="600.2" stroke="#8e9199" stroke-width="1"/>
<line x1="563.8" y1="600.2" x2="846.8" y2="600.2" stroke="#a0a3ab" stroke-width="1.2"/>
<line x1="563.8" y1="600.2" x2="563.8" y2="603.2" stroke="#6e7079" stroke-width="0.8"/>
<line x1="620.4" y1="600.2" x2="620.4" y2="603.2" stroke="#6e7079" stroke-width="0.8"/>
<line x1="677.0" y1="600.2" x2="677.0" y2="603.2" stroke="#6e7079" stroke-width="0.8"/>
<line x1="733.6" y1="600.2" x2="733.6" y2="603.2" stroke="#6e7079" stroke-width="0.8"/>
<line x1="790.2" y1="600.2" x2="790.2" y2="603.2" stroke="#6e7079" stroke-width="0.8"/>
<line x1="846.8" y1="600.2" x2="846.8" y2="603.2" stroke="#6e7079" stroke-width="0.8"/>
<path d="M584.4 600.2 V572.0 Q584.4 570.0 586.4 570.0 H597.7 Q599.7 570.0 599.7 572.0 V600.2Z" fill="url(#gb)"/>
<text transform="translate(592.1 565.2) scale(0.88 1)" font-size="9.2" fill="#333" text-anchor="middle">220</text>
<text transform="translate(592.1 611.4) scale(0.88 1)" font-size="9.2" fill="#6e7079" text-anchor="middle">2019</text>
<path d="M641.0 600.2 V487.0 Q641.0 485.0 643.0 485.0 H654.3 Q656.3 485.0 656.3 487.0 V600.2Z" fill="url(#gb)"/>
<text transform="translate(648.7 480.2) scale(0.88 1)" font-size="9.2" fill="#333" text-anchor="middle">840</text>
<text transform="translate(648.7 611.4) scale(0.88 1)" font-size="9.2" fill="#6e7079" text-anchor="middle">2020</text>
<path d="M697.6 600.2 V479.0 Q697.6 477.0 699.6 477.0 H710.9 Q712.9 477.0 712.9 479.0 V600.2Z" fill="url(#gb)"/>
<text transform="translate(705.3 472.2) scale(0.88 1)" font-size="9.2" fill="#333" text-anchor="middle">898</text>
<text transform="translate(705.3 611.4) scale(0.88 1)" font-size="9.2" fill="#6e7079" text-anchor="middle">2021</text>
<path d="M754.2 600.2 V574.3 Q754.2 572.3 756.2 572.3 H767.5 Q769.5 572.3 769.5 574.3 V600.2Z" fill="url(#gb)"/>
<text transform="translate(761.9 567.5) scale(0.88 1)" font-size="9.2" fill="#333" text-anchor="middle">203</text>
<text transform="translate(761.9 611.4) scale(0.88 1)" font-size="9.2" fill="#6e7079" text-anchor="middle">2022</text>
<path d="M810.9 600.2 V562.4 Q810.9 560.4 812.9 560.4 H824.1 Q826.1 560.4 826.1 562.4 V600.2Z" fill="url(#gb)"/>
<text transform="translate(818.5 555.6) scale(0.88 1)" font-size="9.2" fill="#333" text-anchor="middle">290</text>
<text transform="translate(818.5 611.4) scale(0.88 1)" font-size="9.2" fill="#6e7079" text-anchor="middle">2023</text><path d="M1071.70 524.00 L1071.70 496.20 A33.8 33.8 0 0 1 1103.85 519.56 L1077.41 528.15 A6 6 0 0 0 1071.70 524.00Z" fill="url(#p1)"/>
<path d="M1077.41 528.15 L1112.02 516.90 A42.4 42.4 0 0 1 1096.62 564.30 L1075.23 534.85 A6 6 0 0 0 1077.41 528.15Z" fill="url(#p2)"/>
<path d="M1075.23 534.85 L1100.74 569.97 A49.4 49.4 0 0 1 1042.66 569.97 L1068.17 534.85 A6 6 0 0 0 1075.23 534.85Z" fill="url(#p3)"/>
<path d="M1068.17 534.85 L1039.37 574.50 A55.0 55.0 0 0 1 1019.39 513.00 L1065.99 528.15 A6 6 0 0 0 1068.17 534.85Z" fill="#0fcaa0"/>
<path d="M1065.99 528.15 L1016.06 511.92 A58.5 58.5 0 0 1 1071.70 471.50 L1071.70 524.00 A6 6 0 0 0 1065.99 528.15Z" fill="#3f75f1"/>
<polyline points="1092.6,500.7 1114.3,474.9 1123,474.9" fill="none" stroke="#1b5fae" stroke-width="0.9"/>
<text x="1127" y="477.3" font-size="8" fill="#333" text-anchor="start">一分院</text>
<polyline points="1112,543.3 1134.6,550.7 1142.7,550.7" fill="none" stroke="#3a8ae0" stroke-width="0.9"/>
<text x="1146.5" y="553.0999999999999" font-size="8" fill="#333" text-anchor="start">二分院</text>
<polyline points="1071.7,579.7 1071.7,596.8 1081.4,596.8" fill="none" stroke="#4aa0f5" stroke-width="0.9"/>
<text x="1084.6" y="599.5999999999999" font-size="8" fill="#333" text-anchor="start">三分院</text>
<polyline points="1019,547.5 1008.8,550.7 999.7,550.7" fill="none" stroke="#5eb0f0" stroke-width="0.9"/>
<text x="996.5" y="553.0999999999999" font-size="8" fill="#333" text-anchor="end">四分院</text>
<polyline points="1036.8,482 1028,474.2 1020,474.2" fill="none" stroke="#6a9cf5" stroke-width="0.9"/>
<text x="1016.2" y="477.0" font-size="8" fill="#333" text-anchor="end">五分院</text>
<text x="890.7" y="453" font-size="9" fill="#333" stroke="#333" stroke-width="0.18">各部门查询次数</text>
<rect x="890.1" y="494.4" width="16.2" height="8.8" rx="2.5" fill="url(#l1)"/>
<text x="909.8" y="501.7" font-size="8" fill="#555">一分院</text>
<rect x="890.1" y="510.0" width="16.2" height="8.8" rx="2.5" fill="url(#l2)"/>
<text x="909.8" y="517.3" font-size="8" fill="#555">二分院</text>
<rect x="890.1" y="525.6" width="16.2" height="8.8" rx="2.5" fill="url(#l3)"/>
<text x="909.8" y="532.9" font-size="8" fill="#555">三分院</text>
<rect x="890.1" y="541.2" width="16.2" height="8.8" rx="2.5" fill="#0fcaa0"/>
<text x="909.8" y="548.5" font-size="8" fill="#555">四分院</text>
<rect x="890.1" y="556.8" width="16.2" height="8.8" rx="2.5" fill="#3f75f1"/>
<text x="909.8" y="564.1" font-size="8" fill="#555">五分院</text></svg><!--/CHARTS-->
<div class="abs" style="left:162px;top:635.5px;font-size:8px;line-height:12px;color:#c3c5cc;white-space:nowrap;transform:scaleX(0.97);transform-origin:0 0">技术支持：磐质信息科技（青岛）有限公司</div><div class="abs" style="left:319px;top:635.5px;font-size:8px;line-height:12px;color:#c3c5cc;white-space:nowrap">400-060-5859</div>
</body></html>
